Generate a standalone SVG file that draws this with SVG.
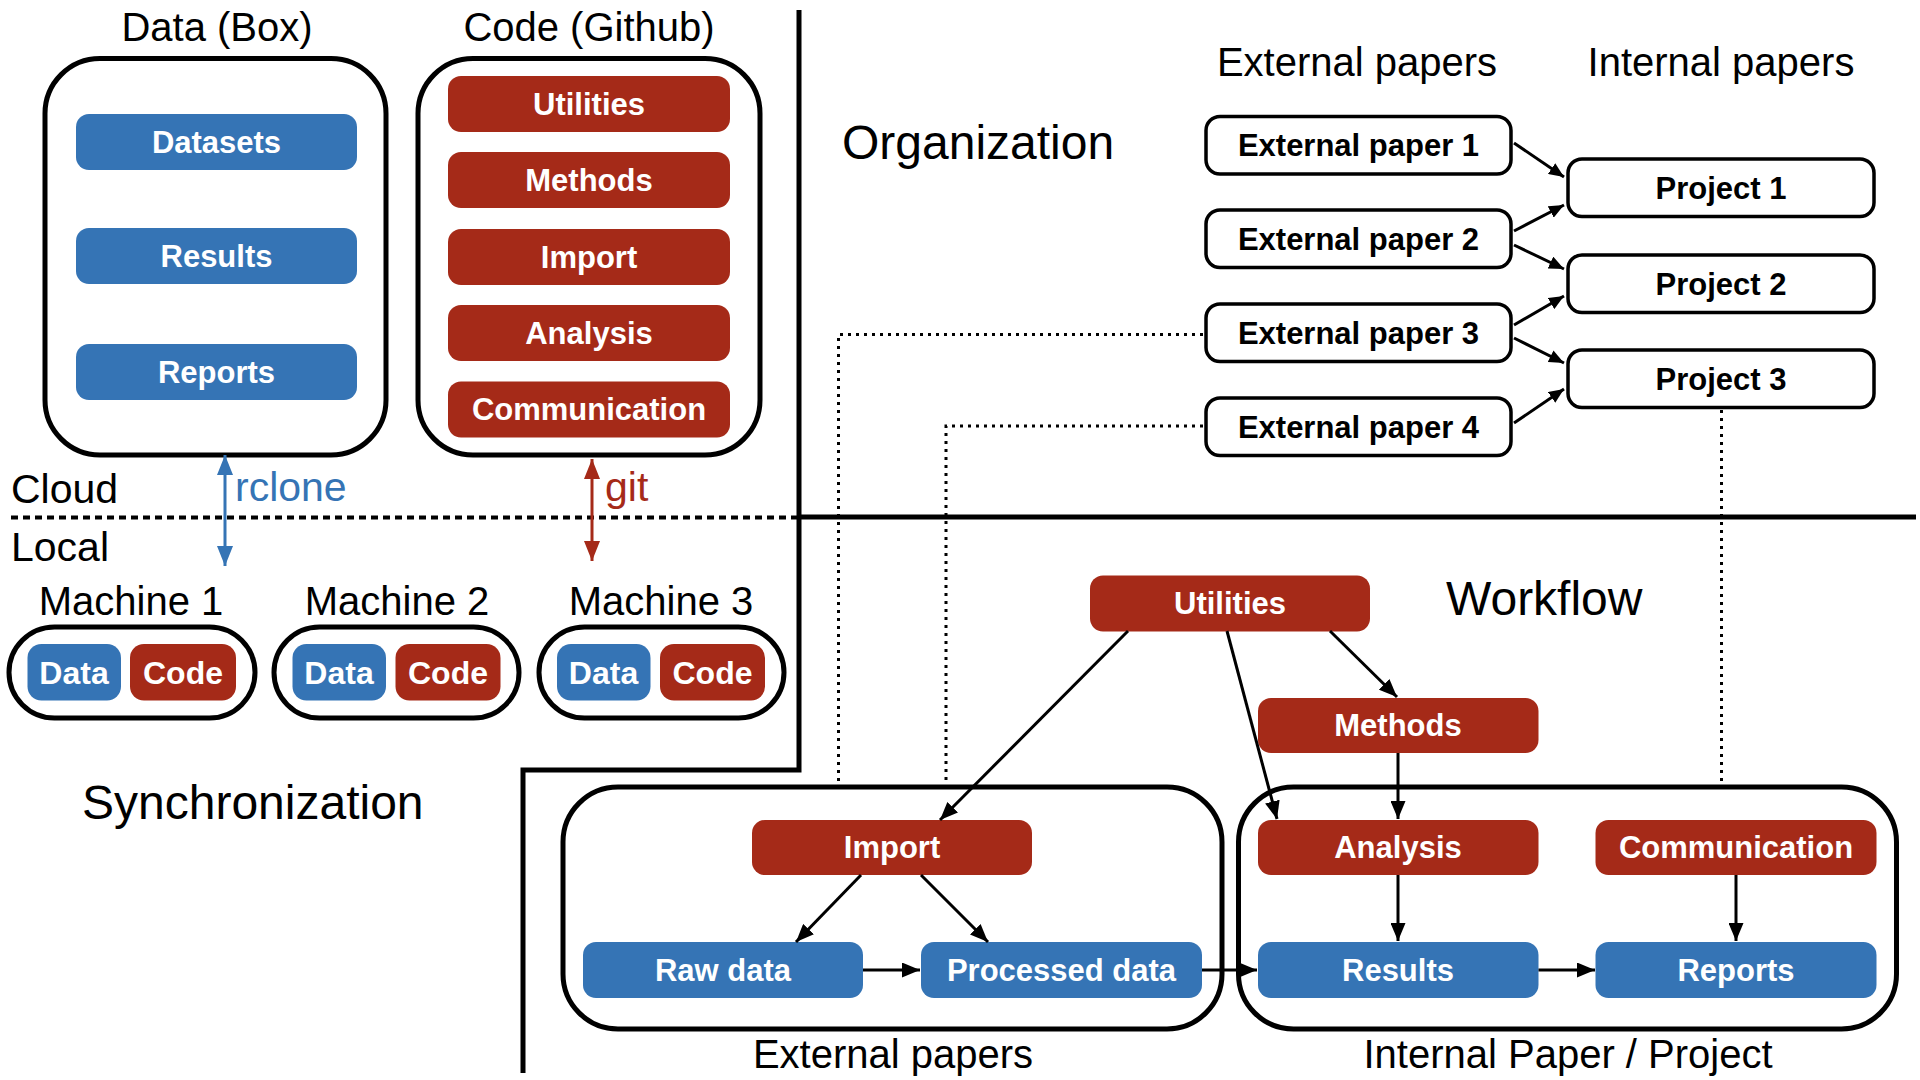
<svg xmlns="http://www.w3.org/2000/svg" width="1920" height="1080" viewBox="0 0 1920 1080">
<style>
text{font-family:"Liberation Sans",Arial,Helvetica,sans-serif;}
.t{font-size:40px;fill:#000;}
.h{font-size:48px;fill:#000;}
.lb{font-size:31px;font-weight:bold;fill:#fff;text-anchor:middle;}
.lm{font-size:32px;font-weight:bold;fill:#fff;text-anchor:middle;}
.lk{font-size:31px;font-weight:bold;fill:#000;text-anchor:middle;}
.blue{fill:#3574B5;}
.red{fill:#A52A18;}
.cont{fill:none;stroke:#000;stroke-width:5;}
.paper{fill:#fff;stroke:#000;stroke-width:3.5;}
.conn{fill:none;stroke:#000;stroke-width:3;}
.dot{fill:none;stroke:#000;stroke-width:3;stroke-dasharray:3 5;}
.div{fill:none;stroke:#000;stroke-width:5;}
</style>
<defs>
<marker id="ah" viewBox="0 0 18 15" refX="18" refY="7.5" markerWidth="18" markerHeight="15" markerUnits="userSpaceOnUse" orient="auto"><path d="M0,0 L18,7.5 L0,15 z" fill="#000"/></marker>
<marker id="ahs" viewBox="0 0 15 13" refX="15" refY="6.5" markerWidth="15" markerHeight="13" markerUnits="userSpaceOnUse" orient="auto"><path d="M0,0 L15,6.5 L0,13 z" fill="#000"/></marker>
<marker id="ahb" viewBox="0 0 20 16" refX="20" refY="8" markerWidth="20" markerHeight="16" markerUnits="userSpaceOnUse" orient="auto-start-reverse"><path d="M0,0 L20,8 L0,16 z" fill="#3574B5"/></marker>
<marker id="ahr" viewBox="0 0 20 16" refX="20" refY="8" markerWidth="20" markerHeight="16" markerUnits="userSpaceOnUse" orient="auto-start-reverse"><path d="M0,0 L20,8 L0,16 z" fill="#A52A18"/></marker>
</defs>

<!-- section dividers -->
<g id="dividers">
<path class="div" d="M799,10 V770 H523 V1073"/>
<path class="div" d="M799,517 H1916" stroke-width="6"/>
<path d="M11,517.5 H798" fill="none" stroke="#000" stroke-width="4" stroke-dasharray="7 5"/>
</g>

<!-- section labels -->
<g id="labels">
<text class="h" x="842" y="159">Organization</text>
<text class="h" x="1446" y="615">Workflow</text>
<text class="h" x="82" y="819">Synchronization</text>
<text class="t" x="11" y="503" style="font-size:41px">Cloud</text>
<text class="t" x="11" y="561" style="font-size:41px">Local</text>
</g>

<!-- Data (Box) -->
<g id="data-box">
<text class="t" x="217" y="41" text-anchor="middle">Data (Box)</text>
<rect class="cont" x="45" y="58.5" width="341" height="396.5" rx="55"/>
<g id="box-datasets"><rect class="blue" x="76" y="114" width="281" height="56" rx="13"/><text class="lb" x="216.5" y="152.5">Datasets</text></g>
<g id="box-results"><rect class="blue" x="76" y="228" width="281" height="56" rx="13"/><text class="lb" x="216.5" y="266.5">Results</text></g>
<g id="box-reports"><rect class="blue" x="76" y="344" width="281" height="56" rx="13"/><text class="lb" x="216.5" y="382.5">Reports</text></g>
</g>

<!-- Code (Github) -->
<g id="code-github">
<text class="t" x="589" y="41" text-anchor="middle">Code (Github)</text>
<rect class="cont" x="418" y="58.5" width="342" height="396.5" rx="55"/>
<g id="gh-utilities"><rect class="red" x="448" y="76" width="282" height="56" rx="13"/><text class="lb" x="589" y="114.5">Utilities</text></g>
<g id="gh-methods"><rect class="red" x="448" y="152" width="282" height="56" rx="13"/><text class="lb" x="589" y="190.5">Methods</text></g>
<g id="gh-import"><rect class="red" x="448" y="229" width="282" height="56" rx="13"/><text class="lb" x="589" y="267.5">Import</text></g>
<g id="gh-analysis"><rect class="red" x="448" y="305" width="282" height="56" rx="13"/><text class="lb" x="589" y="343.5">Analysis</text></g>
<g id="gh-communication"><rect class="red" x="448" y="381.5" width="282" height="56" rx="13"/><text class="lb" x="589" y="420">Communication</text></g>
</g>

<!-- sync arrows -->
<g id="sync">
<line x1="225" y1="455" x2="225" y2="566" stroke="#3574B5" stroke-width="3" marker-start="url(#ahb)" marker-end="url(#ahb)"/>
<text class="t" x="235" y="501" style="fill:#3574B5;font-size:41px">rclone</text>
<line x1="592" y1="459" x2="592" y2="561" stroke="#A52A18" stroke-width="3" marker-start="url(#ahr)" marker-end="url(#ahr)"/>
<text class="t" x="605" y="501" style="fill:#A52A18;font-size:41px">git</text>
</g>

<!-- Machines -->
<g id="machine-1">
<text class="t" x="131" y="615" text-anchor="middle">Machine 1</text>
<rect class="cont" x="9" y="627" width="246" height="91" rx="45.5"/>
<rect class="blue" x="27.5" y="644" width="93.5" height="56.5" rx="14"/><text class="lm" x="74" y="683.5">Data</text>
<rect class="red" x="130" y="644" width="106" height="56.5" rx="14"/><text class="lm" x="183" y="683.5">Code</text>
</g>
<g id="machine-2">
<text class="t" x="397" y="615" text-anchor="middle">Machine 2</text>
<rect class="cont" x="274" y="627" width="245" height="91" rx="45.5"/>
<rect class="blue" x="292.5" y="644" width="93.5" height="56.5" rx="14"/><text class="lm" x="339" y="683.5">Data</text>
<rect class="red" x="395.5" y="644" width="105" height="56.5" rx="14"/><text class="lm" x="448" y="683.5">Code</text>
</g>
<g id="machine-3">
<text class="t" x="661" y="615" text-anchor="middle">Machine 3</text>
<rect class="cont" x="539" y="627" width="245" height="91" rx="45.5"/>
<rect class="blue" x="557" y="644" width="93.5" height="56.5" rx="14"/><text class="lm" x="603.5" y="683.5">Data</text>
<rect class="red" x="660" y="644" width="105" height="56.5" rx="14"/><text class="lm" x="712.5" y="683.5">Code</text>
</g>

<!-- Organization -->
<g id="org-headers">
<text class="t" x="1357" y="76" text-anchor="middle">External papers</text>
<text class="t" x="1721" y="76" text-anchor="middle">Internal papers</text>
</g>
<g id="ext-paper-1"><rect class="paper" x="1206" y="116.5" width="305" height="57.5" rx="14"/><text class="lk" x="1358.5" y="156">External paper 1</text></g>
<g id="ext-paper-2"><rect class="paper" x="1206" y="210" width="305" height="57.5" rx="14"/><text class="lk" x="1358.5" y="249.5">External paper 2</text></g>
<g id="ext-paper-3"><rect class="paper" x="1206" y="304" width="305" height="57.5" rx="14"/><text class="lk" x="1358.5" y="343.5">External paper 3</text></g>
<g id="ext-paper-4"><rect class="paper" x="1206" y="398" width="305" height="57.5" rx="14"/><text class="lk" x="1358.5" y="437.5">External paper 4</text></g>
<g id="project-1"><rect class="paper" x="1568" y="159" width="306" height="57.5" rx="14"/><text class="lk" x="1721" y="198.5">Project 1</text></g>
<g id="project-2"><rect class="paper" x="1568" y="255" width="306" height="57.5" rx="14"/><text class="lk" x="1721" y="294.5">Project 2</text></g>
<g id="project-3"><rect class="paper" x="1568" y="350" width="306" height="57.5" rx="14"/><text class="lk" x="1721" y="389.5">Project 3</text></g>

<!-- Workflow containers -->
<g id="ext-container">
<rect class="cont" x="563" y="787" width="659" height="242" rx="55"/>
<text class="t" x="893" y="1068" text-anchor="middle">External papers</text>
</g>
<g id="int-container">
<rect class="cont" x="1238.5" y="787" width="658" height="242" rx="55"/>
<text class="t" x="1568" y="1068" text-anchor="middle">Internal Paper / Project</text>
</g>

<!-- Workflow nodes -->
<g id="wf-utilities"><rect class="red" x="1090" y="575.5" width="280" height="56" rx="13"/><text class="lb" x="1230" y="614">Utilities</text></g>
<g id="wf-methods"><rect class="red" x="1258" y="698" width="280.5" height="55" rx="13"/><text class="lb" x="1398" y="736">Methods</text></g>
<g id="wf-import"><rect class="red" x="752" y="820" width="280" height="55" rx="13"/><text class="lb" x="892" y="858">Import</text></g>
<g id="wf-analysis"><rect class="red" x="1258" y="820" width="280.5" height="55" rx="13"/><text class="lb" x="1398" y="858">Analysis</text></g>
<g id="wf-communication"><rect class="red" x="1595.5" y="820" width="281" height="55" rx="13"/><text class="lb" x="1736" y="858">Communication</text></g>
<g id="wf-rawdata"><rect class="blue" x="583" y="942" width="280" height="56" rx="13"/><text class="lb" x="723" y="980.5">Raw data</text></g>
<g id="wf-processed"><rect class="blue" x="921" y="942" width="281" height="56" rx="13"/><text class="lb" x="1061.5" y="980.5">Processed data</text></g>
<g id="wf-results"><rect class="blue" x="1258" y="942" width="280.5" height="56" rx="13"/><text class="lb" x="1398" y="980.5">Results</text></g>
<g id="wf-reports"><rect class="blue" x="1595.5" y="942" width="281" height="56" rx="13"/><text class="lb" x="1736" y="980.5">Reports</text></g>

<!-- connectors -->
<g id="connectors">
<line class="conn" x1="1514" y1="143" x2="1564" y2="177" marker-end="url(#ahs)"/>
<line class="conn" x1="1514" y1="231" x2="1564" y2="205" marker-end="url(#ahs)"/>
<line class="conn" x1="1514" y1="245" x2="1564" y2="269" marker-end="url(#ahs)"/>
<line class="conn" x1="1514" y1="325" x2="1564" y2="296" marker-end="url(#ahs)"/>
<line class="conn" x1="1514" y1="338" x2="1564" y2="363" marker-end="url(#ahs)"/>
<line class="conn" x1="1514" y1="423" x2="1564" y2="389" marker-end="url(#ahs)"/>
<path class="dot" d="M1203,334.5 H838.5 V787"/>
<path class="dot" d="M1203,426 H946 V787"/>
<path class="dot" d="M1721.5,410 V787"/>
<line class="conn" x1="1128" y1="631" x2="940" y2="820" marker-end="url(#ah)"/>
<line class="conn" x1="1227" y1="631" x2="1277" y2="819" marker-end="url(#ah)"/>
<line class="conn" x1="1330" y1="631" x2="1397" y2="697" marker-end="url(#ah)"/>
<line class="conn" x1="1398" y1="753" x2="1398" y2="819" marker-end="url(#ah)"/>
<line class="conn" x1="1398" y1="875" x2="1398" y2="941" marker-end="url(#ah)"/>
<line class="conn" x1="1736" y1="875" x2="1736" y2="941" marker-end="url(#ah)"/>
<line class="conn" x1="863" y1="970" x2="920" y2="970" marker-end="url(#ah)"/>
<line class="conn" x1="1202" y1="970" x2="1257" y2="970" marker-end="url(#ah)"/>
<line class="conn" x1="1538.5" y1="970" x2="1595" y2="970" marker-end="url(#ah)"/>
<line class="conn" x1="861" y1="875" x2="796" y2="942" marker-end="url(#ah)"/>
<line class="conn" x1="921" y1="875" x2="988" y2="942" marker-end="url(#ah)"/>
</g>
</svg>
